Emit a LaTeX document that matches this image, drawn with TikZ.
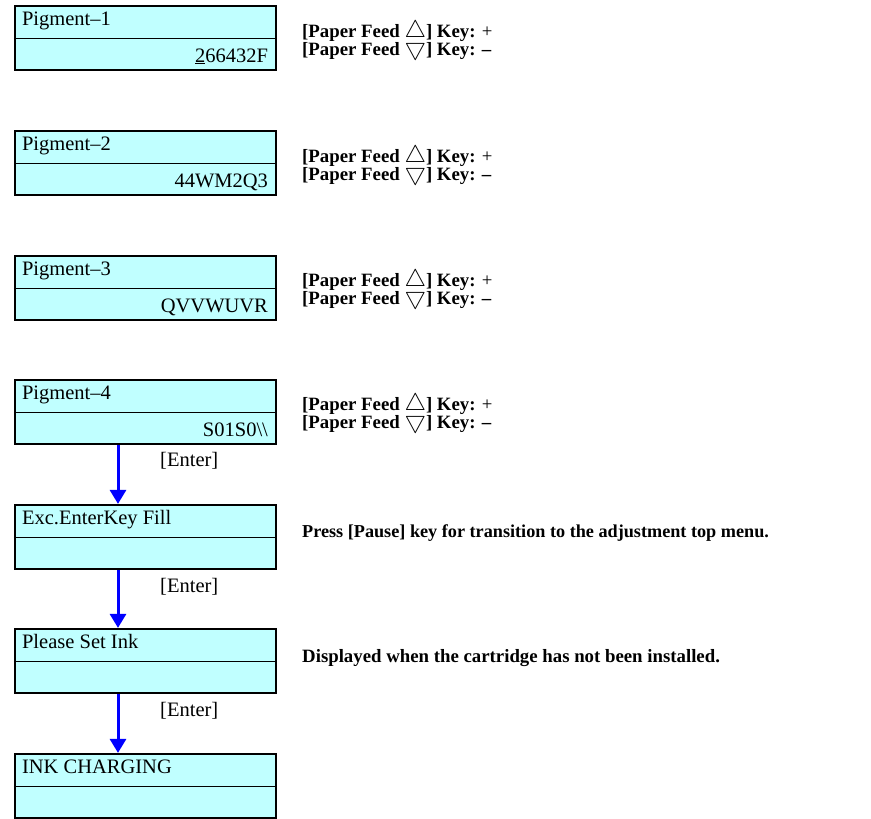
\documentclass[tikz,border=0pt]{standalone}
\usepackage{fontspec}
\setmainfont{Liberation Serif}
\usetikzlibrary{arrows.meta}
\definecolor{lcdcyan}{RGB}{192,255,255}
\definecolor{keyblue}{RGB}{0,0,255}
\newcommand{\feedup}{\smash{\scalebox{1.4}{$\bigtriangleup$}}}
\newcommand{\feeddown}{\smash{\scalebox{1.4}{$\bigtriangledown$}}}

\begin{document}
\begin{tikzpicture}[x=1pt,y=-1pt,
    lcd/.style={draw,line width=2.2pt,fill=lcdcyan,minimum width=261pt,minimum height=64pt,inner sep=0pt},
    lcdtext/.style={font=\fontsize{20.5}{22}\selectfont,inner sep=0pt},
    note/.style={font=\fontsize{18.8}{18}\selectfont\bfseries,inner sep=0pt,anchor=base west,align=left},
    flow/.style={draw=keyblue,line width=3pt,-{Triangle[width=16pt,length=14pt]}}]
    \useasboundingbox (0,0) rectangle (871,819);

    % The panel screens
    \node[lcd] (pig1) at (145.5,38) {};
    \node[lcd] (pig2) at (145.5,163) {};
    \node[lcd] (pig3) at (145.5,288) {};
    \node[lcd] (pig4) at (145.5,412) {};
    \node[lcd] (exc) at (145.5,537) {};
    \node[lcd] (setink) at (145.5,661) {};
    \node[lcd] (charge) at (145.5,786) {};

    % Split lines of the screens
    \draw[line width=0.8pt] (pig1.west) -- (pig1.east);
    \draw[line width=0.8pt] (pig2.west) -- (pig2.east);
    \draw[line width=0.8pt] (pig3.west) -- (pig3.east);
    \draw[line width=0.8pt] (pig4.west) -- (pig4.east);
    \draw[line width=0.8pt] (exc.west) -- (exc.east);
    \draw[line width=0.8pt] (setink.west) -- (setink.east);
    \draw[line width=0.8pt] (charge.west) -- (charge.east);

    % Texts on the screens
    \node[lcdtext,anchor=base west] (pig1top) at ([xshift=8pt,yshift=-21pt]pig1.north west) {Pigment--1};
    \node[lcdtext,anchor=base east] (pig1bot) at ([xshift=-9pt,yshift=9pt]pig1.south east) {\underline{2}66432F};
    \node[lcdtext,anchor=base west] (pig2top) at ([xshift=8pt,yshift=-21pt]pig2.north west) {Pigment--2};
    \node[lcdtext,anchor=base east] (pig2bot) at ([xshift=-9pt,yshift=9pt]pig2.south east) {44WM2Q3};
    \node[lcdtext,anchor=base west] (pig3top) at ([xshift=8pt,yshift=-21pt]pig3.north west) {Pigment--3};
    \node[lcdtext,anchor=base east] (pig3bot) at ([xshift=-9pt,yshift=9pt]pig3.south east) {QVVWUVR};
    \node[lcdtext,anchor=base west] (pig4top) at ([xshift=8pt,yshift=-21pt]pig4.north west) {Pigment--4};
    \node[lcdtext,anchor=base east] (pig4bot) at ([xshift=-9pt,yshift=9pt]pig4.south east) {S01S0\textbackslash\textbackslash};
    \node[lcdtext,anchor=base west] (exctop) at ([xshift=8pt,yshift=-21pt]exc.north west) {Exc.EnterKey Fill};
    \node[lcdtext,anchor=base west] (setinktop) at ([xshift=8pt,yshift=-21pt]setink.north west) {Please Set Ink};
    \node[lcdtext,anchor=base west] (chargetop) at ([xshift=8pt,yshift=-21pt]charge.north west) {INK CHARGING};

    % Enter key steps
    \draw[flow] ([xshift=-27.5pt]pig4.south) -- ([xshift=-27.5pt]exc.north);
    \draw[flow] ([xshift=-27.5pt]exc.south) -- ([xshift=-27.5pt]setink.north);
    \draw[flow] ([xshift=-27.5pt]setink.south) -- ([xshift=-27.5pt]charge.north);
    \node[lcdtext,anchor=base west] (enter1) at ([xshift=14.5pt,yshift=-21pt]pig4.south) {[Enter]};
    \node[lcdtext,anchor=base west] (enter2) at ([xshift=14.5pt,yshift=-22pt]exc.south) {[Enter]};
    \node[lcdtext,anchor=base west] (enter3) at ([xshift=14.5pt,yshift=-22pt]setink.south) {[Enter]};

    % Notes on the right (base is the second line)
    \node[note] (feed1) at (302,56) {[Paper Feed \feedup] Key: {\mdseries +}\\{}[Paper Feed \feeddown] Key: --};
    \node[note] (feed2) at (302,180) {[Paper Feed \feedup] Key: {\mdseries +}\\{}[Paper Feed \feeddown] Key: --};
    \node[note] (feed3) at (302,304) {[Paper Feed \feedup] Key: {\mdseries +}\\{}[Paper Feed \feeddown] Key: --};
    \node[note] (feed4) at (302,428) {[Paper Feed \feedup] Key: {\mdseries +}\\{}[Paper Feed \feeddown] Key: --};
    \node[note,font=\fontsize{18.2}{18}\selectfont\bfseries] (pausenote) at (302,537) {Press [Pause] key for transition to the adjustment top menu.};
    \node[note] (inknote) at (302,662) {Displayed when the cartridge has not been installed.};
\end{tikzpicture}
\end{document}
